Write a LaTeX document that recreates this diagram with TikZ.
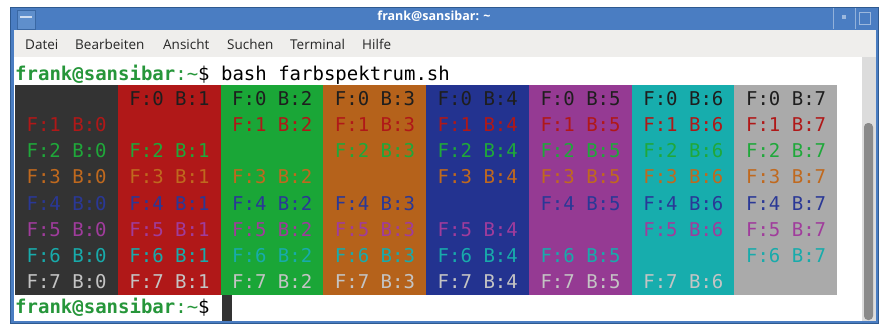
\documentclass[tikz,border=0pt]{standalone}
\usepackage{fontspec}
\setmainfont{Open Sans}
\newfontfamily\termfont{DejaVu Sans Mono}
\newfontfamily\uifont{Open Sans}
\definecolor{titleblue}{HTML}{4A7DC2}
\definecolor{framedark}{HTML}{2F5A90}
\definecolor{btnblue}{HTML}{5F8FCC}
\definecolor{menubg}{HTML}{EFEEEC}
\definecolor{tracks}{HTML}{DCDCDC}
\definecolor{thumb}{HTML}{8A8A8A}
\definecolor{prompt}{HTML}{26963A}
\definecolor{bg0}{HTML}{333333}
\definecolor{bg1}{HTML}{B01818}
\definecolor{bg2}{HTML}{1AA637}
\definecolor{bg3}{HTML}{B5621B}
\definecolor{bg4}{HTML}{233390}
\definecolor{bg5}{HTML}{953A93}
\definecolor{bg6}{HTML}{17ADAD}
\definecolor{bg7}{HTML}{AAAAAA}
\definecolor{fg0}{HTML}{1E1E1E}
\definecolor{fg1}{HTML}{B01818}
\definecolor{fg2}{HTML}{1FA83A}
\definecolor{fg3}{HTML}{C0691E}
\definecolor{fg4}{HTML}{2A3896}
\definecolor{fg5}{HTML}{A03C9C}
\definecolor{fg6}{HTML}{18ABAB}
\definecolor{fg7}{HTML}{C4C4C4}
\tikzset{
  term/.style={anchor=base west, inner sep=0pt, font=\termfont\fontsize{19}{19}\selectfont},
  menuitem/.style={anchor=base west, inner sep=0pt, font=\uifont\fontsize{13.5}{13.5}\selectfont, text=black!85},
  titletext/.style={anchor=base, inner sep=0pt, font=\uifont\bfseries\fontsize{12.5}{12.5}\selectfont, text=white},
}
\begin{document}
\begin{tikzpicture}[x=1pt,y=-1pt]
\useasboundingbox (0,0) rectangle (882,324);
\fill[white] (0,0) rectangle (882,324);
% window frame and title bar
\fill[titleblue, draw=framedark, line width=0.8pt] (10,7) rectangle (878,323);
% title bar buttons
\draw[fill=btnblue, draw=framedark!60!titleblue, line width=0.6pt] (17,10) rectangle (35,29);
\fill[white!70!btnblue] (20,16) rectangle (32,18);
\draw[white!40!titleblue, line width=0.6pt] (833,8) -- (833,29);
\draw[white!40!titleblue, line width=0.6pt] (855,8) -- (855,29);
\fill[white!45!titleblue] (842,15) rectangle (846,19);
\draw[white!45!titleblue, line width=0.9pt] (859,12) rectangle (870,24);
\node[titletext] (title) at (434,20) {frank@sansibar: \textasciitilde};
% menu bar
\fill[menubg] (14,30) rectangle (876,57);
\node[menuitem] (m1) at (25,49) {Datei};
\node[menuitem] (m2) at (75,49) {Bearbeiten};
\node[menuitem] (m3) at (163,49) {Ansicht};
\node[menuitem] (m4) at (227,49) {Suchen};
\node[menuitem] (m5) at (290,49) {Terminal};
\node[menuitem] (m6) at (362,49) {Hilfe};
% terminal area
\fill[white] (14,57) rectangle (862,321);
% scrollbar
\fill[tracks] (862,57) rectangle (876,321);
\fill[thumb, rounded corners=4pt] (864,123) rectangle (873,320);
% colour table backgrounds
\foreach \j in {0,...,7}{
  \fill[bg\j] ({15+\j*102.78},85) rectangle ({15+(\j+1)*102.78},295);
}
% colour table texts
\foreach \i in {0,...,7}{
  \foreach \j in {0,...,7}{
    \ifnum\i=\j\relax\else
      \node[term, text=fg\i] (t-\i-\j) at ({15+\j*102.78+11.42},{105+\i*26.25}) {F:\i{} B:\j};
    \fi
  }
}
% prompt lines
\node[term] (p1) at (15,80) {{\bfseries\color{prompt}frank@sansibar}{\color{prompt}:\textasciitilde}\$ bash farbspektrum.sh};
\node[term] (p2) at (15,313) {{\bfseries\color{prompt}frank@sansibar}{\color{prompt}:\textasciitilde}\$};
\fill[bg0] (222,295) rectangle (231.5,321);
\end{tikzpicture}
\end{document}
